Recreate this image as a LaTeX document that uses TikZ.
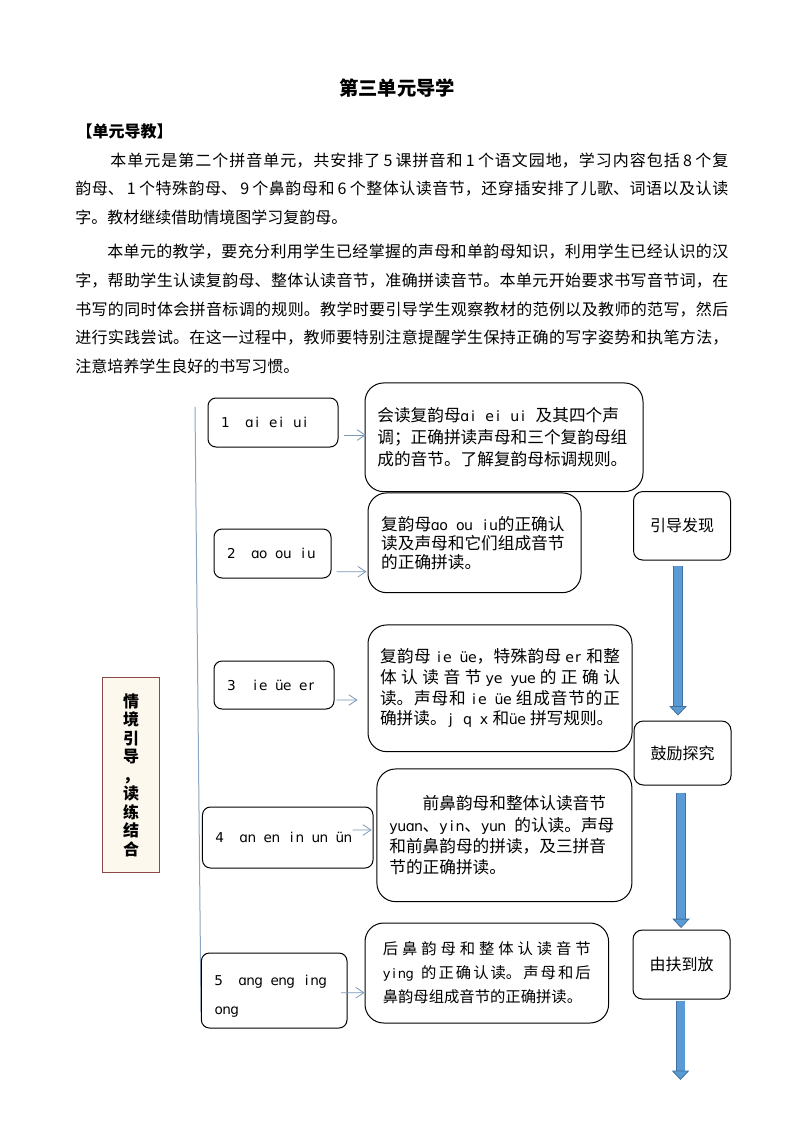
\documentclass[tikz,border=0pt]{standalone}
\usepackage{fontspec}
\setmainfont{Noto Sans CJK SC}
\newfontfamily\pyfont{DejaVu Sans}[Scale=0.85]
\usetikzlibrary{arrows.meta}
\XeTeXlinebreaklocale "zh"
\XeTeXlinebreakskip=0pt plus 3pt minus 0.25pt

\definecolor{linkblue}{RGB}{122,152,184}
\definecolor{spinegray}{RGB}{140,165,192}
\definecolor{themered}{RGB}{140,72,72}
\definecolor{themefill}{RGB}{253,248,238}
\definecolor{flowfill}{RGB}{91,155,213}
\definecolor{flowedge}{RGB}{65,113,156}

% pinyin in half-width cells, ~ is a space
\newlength\pincell
\newcommand\pinloop[1]{\ifx#1\relax\else\makebox[\pincell]{#1}\expandafter\pinloop\fi}
\newcommand\pin[1]{{\setlength\pincell{.5em}\pyfont\pinloop#1\relax}}
\newcommand\dg[1]{\hspace{0.2em}#1\hspace{0.2em}}
\newcommand\ww{\hspace{0.25em}}

\tikzstyle{textblock} = [anchor=north west,inner sep=0pt,text width=489.75pt,align=justify,font=\fontsize{12pt}{21.5pt}\selectfont]
\tikzstyle{pinbox} = [rectangle,draw,rounded corners=6pt,line width=.75pt,inner xsep=10pt,inner ysep=0pt,align=left,font=\fontsize{12pt}{21.75pt}\selectfont]
\tikzstyle{notebox} = [rectangle,draw,rounded corners=14pt,line width=.75pt,inner sep=0pt]
\tikzstyle{stepbox} = [rectangle,draw,rounded corners=7pt,line width=.75pt,minimum width=72.75pt,font=\fontsize{12pt}{14pt}\selectfont]
\tikzstyle{themebox} = [rectangle,draw=themered,fill=themefill,line width=.75pt,minimum width=42.75pt,minimum height=146.25pt,align=center,font=\fontsize{12pt}{13.9pt}\selectfont\bfseries]
\tikzstyle{link} = [-{Straight Barb[length=6pt,width=8pt]},draw=linkblue,line width=.6pt]
\tikzstyle{flow} = [draw=flowfill,line width=6pt,-{Triangle[width=13pt,length=7pt,color=flowedge,fill=flowfill,line width=.6pt]},preaction={draw=flowedge,line width=7.2pt,-,shorten >=6pt}]

\begin{document}
\begin{tikzpicture}[x=.75pt,y=-.75pt]

\fill[white] (0,0) rectangle (794,1123);
\useasboundingbox (0,0) rectangle (794,1123);

% text
\node[font=\fontsize{14.5pt}{17pt}\selectfont\bfseries] (title) at (397,88) {第三单元导学};
\node[anchor=west,font=\fontsize{12pt}{14pt}\selectfont\bfseries] (head) at (72,131) {【单元导教】};

\node[textblock] (p1) at (75,146) {\strut\hspace*{2.2em}本单元是第二个拼音单元，共安排了\dg{5}课拼音和\dg{1}个语文园地，学习内容包括\dg{8}个复\linebreak
韵母、\dg{1}个特殊韵母、\dg{9}个鼻韵母和\dg{6}个整体认读音节，还穿插安排了儿歌、词语以及认读\linebreak
字。教材继续借助情境图学习复韵母。};

\node[textblock] (p2) at (75,237.5) {\strut\hspace*{2em}本单元的教学，要充分利用学生已经掌握的声母和单韵母知识，利用学生已经认识的汉\linebreak
字，帮助学生认读复韵母、整体认读音节，准确拼读音节。本单元开始要求书写音节词，在\linebreak
书写的同时体会拼音标调的规则。教学时要引导学生观察教材的范例以及教师的范写，然后\linebreak
进行实践尝试。在这一过程中，教师要特别注意提醒学生保持正确的写字姿势和执笔方法，\linebreak
注意培养学生良好的书写习惯。};

% theme and spine
\node[themebox] (theme) at (131,775.2) {情\\境\\引\\导\\，\\读\\练\\结\\合};
\coordinate (spinetop) at (195,407);
\coordinate (spinebot) at (201,1012);
\draw[spinegray,line width=.75pt] (spinetop) -- (spinebot);

% lesson boxes
\node[pinbox,text width=77.5pt,minimum height=36.75pt] (s1) at (273,422.5) {\pin{1~~ɑi~ei~ui}};
\node[pinbox,text width=67.75pt,minimum height=36.75pt] (s2) at (272.5,553.5) {\pin{2~~ɑo~ou~iu}};
\node[pinbox,text width=70pt,minimum height=36pt] (s3) at (274,685) {\pin{3~~ie~üe~er}};
\node[pinbox,text width=107.9pt,minimum height=45.75pt] (s4) at (287.75,837.5) {\pin{4~~ɑn~en~in~un~ün}};
\node[pinbox,text width=89.2pt,minimum height=56.25pt] (s5) at (274.2,990.5) {\rule{0pt}{17pt}\pin{5~~ɑng~eng~ing}\\\pin{ong}};

% note boxes
\node[notebox,minimum width=208.5pt,minimum height=81.5pt,text width=190pt,align=left,font=\fontsize{12.5pt}{16.5pt}\selectfont] (b1) at (504,437.3) {会读复韵母\pin{ɑi~ei~ui~}及其四个声\\调；正确拼读声母和三个复韵母组\\成的音节。了解复韵母标调规则。};
\node[notebox,minimum width=159.75pt,minimum height=74.8pt,text width=140pt,align=left,font=\fontsize{12.5pt}{14.3pt}\selectfont] (b2) at (474.5,542.8) {复韵母\pin{ɑo~ou~iu}的正确认\\读及声母和它们组成音节\\的正确拼读。};
\node[notebox,minimum width=198pt,minimum height=95pt,text width=180pt,align=justify,font=\fontsize{12.5pt}{15.5pt}\selectfont] (b3) at (500,688.3) {复韵母\ww\pin{ie~üe}，特殊韵母\ww\pin{er}\ww 和整\linebreak
体认读音节\ww\pin{ye~yue}\ww 的正确认\linebreak
读。声母和\ww\pin{ie~üe}\ww 组成音节的正\linebreak
确拼读。\pin{j~q~x}\ww 和\pin{üe}\ww 拼写规则。};
\node[notebox,minimum width=191.25pt,minimum height=99.5pt,text width=172.5pt,align=left,font=\fontsize{12.5pt}{16pt}\selectfont] (b4) at (504.4,835.3) {\hspace*{2em}前鼻韵母和整体认读音节\\\pin{yuɑn}、\pin{yin}、\pin{yun~}的认读。声母\\和前鼻韵母的拼读，及三拼音\\节的正确拼读。};
\node[notebox,minimum width=182.7pt,minimum height=75pt,text width=156pt,align=justify,font=\fontsize{11.5pt}{18pt}\selectfont] (b5) at (486.8,973) {后鼻韵母和整体认读音节\linebreak
\pin{ying~}的正确认读。声母和后\linebreak
鼻韵母组成音节的正确拼读。};

% step boxes
\node[stepbox,minimum height=51.4pt] (r1) at (682,525.8) {引导发现};
\node[stepbox,minimum height=48pt] (r2) at (682.5,753) {鼓励探究};
\node[stepbox,minimum height=51.75pt] (r3) at (681.5,964.5) {由扶到放};

% links
\draw[link] ([xshift=4.2pt,yshift=-9.4pt]s1.east) -- ([xshift=1pt,yshift=1.7pt]b1.west);
\draw[link] ([xshift=3.75pt,yshift=-13.65pt]s2.east) -- ([xshift=-.75pt,yshift=-21.7pt]b2.west);
\draw[link] ([xshift=1.5pt,yshift=-11.25pt]s3.east) -- ([xshift=-7.5pt,yshift=-8.8pt]b3.west);
\draw[link] ([xshift=-15.75pt,yshift=5.6pt]s4.east) -- ([xshift=-3.6pt,yshift=4pt]b4.west);
\draw[link] ([xshift=-4.7pt,yshift=-1.65pt]s5.east) -- ([yshift=-14.8pt]b5.west);

% flow arrows
\draw[flow] ([xshift=-3pt,yshift=-3.75pt]r1.south) -- ([xshift=-3pt,yshift=3.75pt]r1.south |- r2.north);
\draw[flow] ([xshift=-1.1pt,yshift=-5.25pt]r2.south) -- ([xshift=-1.1pt,yshift=1.1pt]r2.south |- r3.north);
\coordinate (flowend) at (680.5,1080);
\draw[flow] ([yshift=-.75pt]r3.south -| flowend) -- (flowend);

\end{tikzpicture}
\end{document}
